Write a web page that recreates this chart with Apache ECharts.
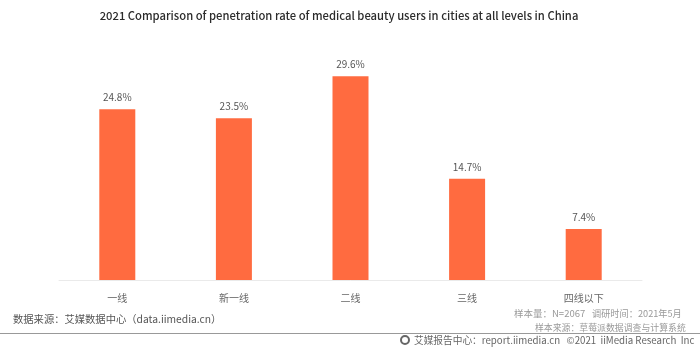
<!DOCTYPE html>
<html><head><meta charset="utf-8">
<style>html,body{margin:0;padding:0;background:#fff}#c{width:700px;height:350px}</style>
<script src="https://cdn.jsdelivr.net/npm/echarts@6/dist/echarts.min.js"></script>
</head><body><div id="c"></div>
<script>
const categories = ['一线','新一线','二线','三线','四线以下'];
const rates = [24.8,23.5,29.6,14.7,7.4];
const chartTitle = '2021 Comparison of penetration rate of medical beauty users in cities at all levels in China';
const sourceLeft = '数据来源\uFF1A艾媒数据中心\uFF08data.iimedia.cn\uFF09';
const sampleSize = '样本量\uFF1AN=2067';
const sampleDate = '调研时间\uFF1A2021年5月';
const sampleSource = '样本来源\uFF1A草莓派数据调查与计算系统';
const footer = '艾媒报告中心\uFF1Areport.iimedia.cn   ©2021  iiMedia Research  Inc';
const font = '"Noto Sans CJK SC","Noto Sans",sans-serif';
const chart = echarts.init(document.getElementById('c'), null, {renderer:'canvas'});
chart.setOption({
  animation:false,
  backgroundColor:'#fff',
  title:{text:chartTitle,left:334,top:5,textAlign:'center',textStyle:{fontFamily:font,fontSize:11.25,fontWeight:500,color:'#2b2b2b'}},
  grid:{left:59,right:58,top:59.8,bottom:70},
  xAxis:{type:'category',data:categories,
    axisLine:{lineStyle:{color:'#eaeaea',width:1}},axisTick:{show:false},
    axisLabel:{margin:13,fontFamily:font,fontSize:10,color:'#666'}},
  yAxis:{type:'value',min:0,max:32,show:false,splitLine:{show:false}},
  series:[{type:'bar',data:rates,barWidth:36,itemStyle:{color:'#ff6b40'},
    label:{show:true,position:'top',distance:7,fontFamily:font,fontSize:10,color:'#555',formatter:p=>p.value.toFixed(1)+'%'}}],
  graphic:[
    {type:'rect',shape:{x:0,y:333,width:700,height:1},style:{fill:'#999'}},
    {type:'text',x:13,y:314,style:{text:sourceLeft,fontFamily:font,fontSize:10.3,fill:'#555'}},
    {type:'text',x:514,y:309,style:{text:sampleSize,fontFamily:font,fontSize:9.5,fill:'#999'}},
    {type:'text',x:592,y:309,style:{text:sampleDate,fontFamily:font,fontSize:9.2,fill:'#999'}},
    {type:'text',x:535,y:323,style:{text:sampleSource,fontFamily:font,fontSize:8.9,fill:'#999'}},
    {type:'circle',shape:{cx:405,cy:340,r:4},style:{fill:'none',stroke:'#666',lineWidth:2}},
    {type:'text',x:414,y:335,style:{text:footer,fontFamily:font,fontSize:9.7,fill:'#666'}}
  ]
});
</script></body></html>
